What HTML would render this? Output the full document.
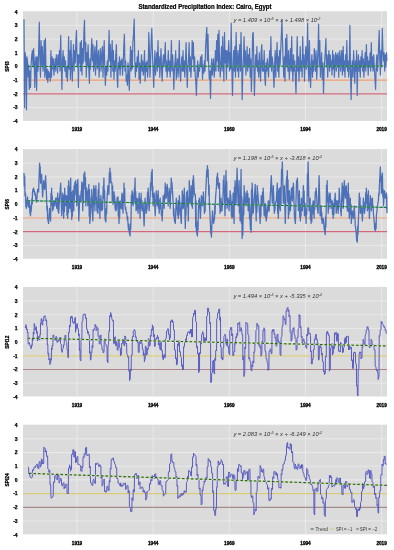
<!DOCTYPE html>
<html><head><meta charset="utf-8"><style>
html,body{margin:0;padding:0;background:#fff;width:394px;height:550px;overflow:hidden;font-family:"Liberation Sans",sans-serif}
</style></head><body>
<svg width="394" height="550" viewBox="0 0 394 550" style="display:block;filter:blur(0.45px)">
<rect x="0" y="0" width="394" height="550" fill="#ffffff"/>
<text x="205" y="8.7" font-family="Liberation Sans, sans-serif" font-weight="bold" font-size="6.6" text-anchor="middle" fill="#000" stroke="#000" stroke-width="0.22" textLength="133" lengthAdjust="spacingAndGlyphs">Standardized Precipitation Index: Cairo, Egypt</text>
<rect x="23.0" y="11.30" width="364.0" height="109.60" fill="#dbdbdb"/>
<line x1="23.0" x2="387.0" y1="107.60" y2="107.60" stroke="#ebebeb" stroke-width="0.9"/>
<line x1="23.0" x2="387.0" y1="93.90" y2="93.90" stroke="#ebebeb" stroke-width="0.9"/>
<line x1="23.0" x2="387.0" y1="80.20" y2="80.20" stroke="#ebebeb" stroke-width="0.9"/>
<line x1="23.0" x2="387.0" y1="66.50" y2="66.50" stroke="#ebebeb" stroke-width="0.9"/>
<line x1="23.0" x2="387.0" y1="52.80" y2="52.80" stroke="#ebebeb" stroke-width="0.9"/>
<line x1="23.0" x2="387.0" y1="39.10" y2="39.10" stroke="#ebebeb" stroke-width="0.9"/>
<line x1="23.0" x2="387.0" y1="25.40" y2="25.40" stroke="#ebebeb" stroke-width="0.9"/>
<line x1="77.0" x2="77.0" y1="11.30" y2="120.90" stroke="#ebebeb" stroke-width="0.9"/>
<line x1="153.2" x2="153.2" y1="11.30" y2="120.90" stroke="#ebebeb" stroke-width="0.9"/>
<line x1="229.3" x2="229.3" y1="11.30" y2="120.90" stroke="#ebebeb" stroke-width="0.9"/>
<line x1="305.5" x2="305.5" y1="11.30" y2="120.90" stroke="#ebebeb" stroke-width="0.9"/>
<line x1="381.6" x2="381.6" y1="11.30" y2="120.90" stroke="#ebebeb" stroke-width="0.9"/>
<line x1="23.0" x2="387.0" y1="80.20" y2="80.20" stroke="#f29c70" stroke-width="1.2"/>
<line x1="23.0" x2="387.0" y1="93.90" y2="93.90" stroke="#d4687a" stroke-width="1.2"/>
<polyline points="24.0,19.2 24.6,107.7 25.2,52.7 25.9,62.9 26.5,109.8 26.9,56.8 27.5,60.9 28.1,77.2 28.7,65.0 29.3,89.4 29.9,71.1 30.5,87.4 31.1,65.0 31.8,54.8 32.4,50.7 33.0,67.0 33.6,48.7 34.2,60.9 34.8,87.4 35.4,62.9 36.0,56.8 36.6,90.4 37.2,56.8 37.9,71.1 38.5,56.8 39.3,22.2 39.9,60.9 40.5,77.2 41.1,40.5 41.7,65.0 42.3,46.6 43.0,71.1 43.6,62.9 44.2,40.5 44.8,77.2 45.4,38.5 46.0,71.1 46.6,79.2 47.2,69.0 47.8,82.3 48.5,71.1 49.1,77.2 49.7,73.1 50.3,81.2 50.9,50.7 51.5,77.2 52.1,56.8 52.7,69.0 53.3,58.9 53.9,75.1 54.5,67.0 55.2,58.9 55.8,71.1 56.4,54.8 57.0,60.9 57.6,73.1 58.2,54.8 58.8,65.0 59.4,50.7 60.0,71.1 60.7,35.4 61.3,65.0 61.9,89.4 62.5,60.9 63.1,50.7 63.7,67.0 64.3,56.8 64.9,71.1 65.5,60.9 66.2,77.2 66.8,67.0 67.4,81.2 68.0,67.0 68.6,36.5 69.2,69.0 69.8,50.7 70.4,79.2 71.0,40.5 71.7,67.0 72.3,81.2 72.9,60.9 73.5,44.6 74.1,71.1 74.7,50.7 75.3,62.9 75.9,40.5 76.5,30.4 77.2,67.0 77.8,54.8 78.4,87.4 79.0,54.8 79.6,62.9 80.2,42.6 80.8,71.1 81.4,40.5 82.0,75.1 82.6,48.7 83.2,62.9 83.9,32.4 84.5,20.2 85.1,60.9 85.7,42.6 86.3,77.2 86.9,52.7 87.5,67.0 88.1,44.6 88.8,69.0 89.4,83.3 90.0,58.9 90.6,69.0 91.2,50.7 91.8,38.5 92.4,60.9 93.0,44.6 93.6,71.1 94.2,60.9 94.9,46.6 95.5,75.1 96.1,56.8 96.7,40.5 97.3,69.0 97.9,58.9 98.5,50.7 99.1,77.2 99.7,62.9 100.3,48.7 101.0,71.1 101.6,54.8 102.4,46.6 103.0,77.2 103.6,56.8 104.2,40.5 104.8,71.1 105.4,85.3 106.0,67.0 106.7,75.1 107.3,60.9 107.9,71.1 108.5,54.8 109.1,30.4 109.7,60.9 110.3,44.6 110.9,77.2 111.5,56.8 112.2,40.5 112.8,71.1 113.4,50.7 114.0,79.2 114.6,60.9 115.2,71.1 115.8,54.8 116.4,44.6 117.0,75.1 117.7,87.4 118.3,62.9 118.9,69.0 119.5,56.8 120.1,75.1 120.7,60.9 121.3,67.0 121.9,58.9 122.5,75.1 123.2,62.9 123.8,46.6 124.4,34.4 125.0,71.1 125.6,60.9 126.2,81.2 126.8,75.1 127.4,85.3 128.0,62.9 128.7,77.2 129.3,90.4 129.9,67.0 130.5,46.6 131.1,71.1 131.7,50.7 132.3,69.0 132.9,42.6 133.5,34.4 134.2,19.2 134.8,60.9 135.4,77.2 136.0,62.9 136.6,71.1 137.2,56.8 137.8,67.0 138.4,50.7 139.0,79.2 139.6,62.9 140.2,83.3 140.9,67.0 141.5,54.8 142.1,71.1 142.7,60.9 143.3,75.1 143.9,67.0 144.5,50.7 145.1,81.2 145.8,62.9 146.4,71.1 147.0,60.9 147.6,77.2 148.2,67.0 148.8,32.4 149.4,50.7 150.0,77.2 150.6,60.9 151.2,40.5 151.8,28.3 152.5,54.8 153.1,71.1 153.7,87.4 154.3,67.0 154.9,50.7 155.5,75.1 156.1,62.9 156.7,52.7 157.3,71.1 158.0,40.5 158.6,67.0 159.2,56.8 159.8,77.2 160.4,62.9 161.0,48.7 161.6,71.1 162.2,81.2 162.8,62.9 163.5,54.8 164.1,67.0 164.7,56.8 165.3,42.6 165.9,71.1 166.5,60.9 167.1,77.2 167.7,67.0 168.3,50.7 168.9,71.1 169.6,60.9 170.2,77.2 170.8,62.9 171.4,40.5 172.0,71.1 172.6,54.8 173.2,67.0 173.8,89.4 174.4,71.1 175.1,60.9 175.7,50.7 176.3,79.2 176.9,67.0 177.5,58.9 178.1,77.2 178.7,62.9 179.3,40.5 179.9,71.1 180.6,81.2 181.2,67.0 181.8,56.8 182.4,71.1 183.0,50.7 183.6,71.1 184.2,60.9 184.8,77.2 185.4,62.9 186.1,42.6 186.7,71.1 187.3,87.4 187.9,67.0 188.5,58.9 189.1,42.6 189.7,71.1 190.3,56.8 190.9,77.2 191.6,62.9 192.2,40.5 192.8,58.9 193.4,42.6 194.0,71.1 194.6,56.8 195.2,75.1 195.8,81.2 196.4,95.5 197.1,71.1 197.7,60.9 198.3,77.2 198.9,65.0 199.5,71.1 200.1,62.9 200.7,56.8 201.3,67.0 201.9,54.8 202.5,79.2 203.2,65.0 203.8,73.1 204.4,60.9 205.0,71.1 205.6,46.6 206.2,36.5 206.8,27.3 207.4,60.9 208.0,34.4 208.7,67.0 209.3,79.2 209.9,71.1 210.5,98.5 211.1,71.1 211.7,58.9 212.3,75.1 212.9,67.0 213.5,58.9 214.2,77.2 214.8,69.0 215.4,50.7 216.0,71.1 216.6,40.5 217.2,60.9 217.8,34.4 218.4,71.1 219.0,30.4 219.6,60.9 220.2,77.2 220.9,62.9 221.5,46.6 222.1,71.1 222.7,36.5 223.3,60.9 223.9,81.2 224.5,32.4 225.1,62.9 225.8,50.7 226.4,79.2 227.0,50.7 227.6,67.0 228.2,54.8 228.8,40.5 229.4,71.1 230.0,52.7 230.6,69.0 231.2,23.2 231.8,67.0 232.5,95.5 233.1,67.0 233.7,50.7 234.3,71.1 234.9,46.6 235.5,77.2 236.1,32.4 236.7,60.9 237.3,71.1 238.0,50.7 238.6,77.2 239.2,58.9 239.8,44.6 240.4,71.1 241.0,32.4 241.6,60.9 242.2,99.6 242.8,71.1 243.5,56.8 244.1,36.5 244.7,67.0 245.3,50.7 245.9,75.1 246.5,62.9 247.1,46.6 247.7,71.1 248.3,54.8 248.9,67.0 249.6,48.7 250.2,77.2 250.8,58.9 251.4,91.4 252.0,71.1 252.6,34.4 253.2,32.4 253.8,60.9 254.4,95.5 255.1,71.1 255.7,54.8 256.3,67.0 256.9,46.6 257.5,71.1 258.1,60.9 258.7,77.2 259.3,52.7 259.9,67.0 260.6,81.2 261.2,50.7 261.8,44.6 262.4,71.1 263.0,60.9 263.6,71.1 264.2,50.7 264.8,77.2 265.4,85.3 266.1,62.9 266.7,71.1 267.3,58.9 267.9,67.0 268.5,77.2 269.1,62.9 269.7,50.7 270.3,67.0 270.9,36.5 271.6,71.1 272.2,56.8 272.8,62.9 273.4,75.1 274.0,87.4 274.6,65.0 275.2,50.7 275.8,77.2 276.4,58.9 277.1,42.6 277.7,71.1 278.3,56.8 278.9,77.2 279.5,50.7 280.1,65.0 280.7,50.7 281.3,36.5 281.9,20.2 282.5,40.5 283.1,60.9 283.8,77.2 284.4,56.8 285.0,81.2 285.6,38.5 286.2,67.0 286.8,34.4 287.4,60.9 288.0,71.1 288.6,50.7 289.3,79.2 289.9,62.9 290.5,48.7 291.1,71.1 291.7,36.5 292.3,67.0 292.9,81.2 293.5,54.8 294.1,71.1 294.8,60.9 295.4,79.2 296.0,93.5 296.6,67.0 297.2,36.5 297.8,71.1 298.4,56.8 299.0,81.2 299.6,65.0 300.2,46.6 300.9,71.1 301.5,60.9 302.1,77.2 302.7,36.5 303.3,67.0 303.9,54.8 304.5,81.2 305.1,62.9 305.8,46.6 306.4,69.0 307.0,58.9 307.6,23.2 308.2,67.0 308.8,81.2 309.4,40.5 310.0,71.1 310.6,87.4 311.2,65.0 311.9,54.8 312.5,77.2 313.1,60.9 313.7,71.1 314.3,48.7 314.9,58.9 315.5,71.1 316.1,50.7 316.7,79.2 317.4,62.9 318.0,50.7 318.6,24.2 319.2,67.0 319.8,40.5 320.4,77.2 321.0,62.9 321.6,52.7 322.2,79.2 322.9,62.9 323.5,93.5 324.1,71.1 324.7,60.9 325.3,50.7 325.9,38.5 326.5,67.0 327.1,54.8 327.7,77.2 328.3,60.9 328.9,50.7 329.6,71.1 330.2,54.8 330.8,67.0 331.4,60.9 332.0,75.1 332.6,50.7 333.2,69.0 333.8,54.8 334.4,77.2 335.1,60.9 335.7,52.7 336.3,71.1 336.9,54.8 337.5,67.0 338.1,52.7 338.7,77.2 339.3,58.9 339.9,50.7 340.6,71.1 341.2,60.9 341.8,50.7 342.4,75.1 343.2,46.6 343.8,71.1 344.4,60.9 345.0,77.2 345.6,54.8 346.2,67.0 346.8,40.5 347.5,71.1 348.1,60.9 348.7,77.2 349.3,67.0 349.9,25.3 350.5,71.1 351.1,99.6 351.7,71.1 352.3,60.9 352.9,77.2 353.6,50.7 354.2,67.0 354.8,83.3 355.4,60.9 356.0,71.1 356.6,50.7 357.2,95.5 357.8,67.0 358.4,54.8 359.1,71.1 359.7,60.9 360.3,77.2 360.9,56.8 361.5,67.0 362.1,50.7 362.7,71.1 363.3,58.9 363.9,77.2 364.6,62.9 365.2,52.7 365.8,71.1 366.4,44.6 367.0,67.0 367.6,56.8 368.2,75.1 368.8,60.9 369.4,67.0 370.1,52.7 370.7,71.1 371.3,42.6 371.9,67.0 372.5,56.8 373.1,71.1 373.7,54.8 374.3,67.0 374.9,77.2 375.6,89.4 376.2,67.0 376.8,54.8 377.4,71.1 378.0,60.9 378.6,46.6 379.2,30.4 379.8,60.9 380.4,75.1 381.0,50.7 381.6,67.0 382.3,28.3 382.9,50.7 383.5,60.9 384.1,52.7 384.7,71.1 385.3,54.8 385.9,67.0 386.5,52.7 386.9,60.9" fill="none" stroke="#4d71b8" stroke-width="1.2" stroke-linejoin="round"/>
<line x1="27.6" x2="383.5" y1="66.49" y2="66.09" stroke="#6fb88a" stroke-width="1.0"/>
<line x1="27.6" x2="383.5" y1="66.49" y2="66.09" stroke="#1a7050" stroke-width="1.05" stroke-dasharray="3,1.3"/>
<text x="17.6" y="123.10" font-family="Liberation Sans, sans-serif" font-weight="bold" font-size="5" text-anchor="end" fill="#000" stroke="#000" stroke-width="0.25">-4</text>
<text x="17.6" y="109.40" font-family="Liberation Sans, sans-serif" font-weight="bold" font-size="5" text-anchor="end" fill="#000" stroke="#000" stroke-width="0.25">-3</text>
<text x="17.6" y="95.70" font-family="Liberation Sans, sans-serif" font-weight="bold" font-size="5" text-anchor="end" fill="#000" stroke="#000" stroke-width="0.25">-2</text>
<text x="17.6" y="82.00" font-family="Liberation Sans, sans-serif" font-weight="bold" font-size="5" text-anchor="end" fill="#000" stroke="#000" stroke-width="0.25">-1</text>
<text x="17.6" y="68.30" font-family="Liberation Sans, sans-serif" font-weight="bold" font-size="5" text-anchor="end" fill="#000" stroke="#000" stroke-width="0.25">0</text>
<text x="17.6" y="54.60" font-family="Liberation Sans, sans-serif" font-weight="bold" font-size="5" text-anchor="end" fill="#000" stroke="#000" stroke-width="0.25">1</text>
<text x="17.6" y="40.90" font-family="Liberation Sans, sans-serif" font-weight="bold" font-size="5" text-anchor="end" fill="#000" stroke="#000" stroke-width="0.25">2</text>
<text x="17.6" y="27.20" font-family="Liberation Sans, sans-serif" font-weight="bold" font-size="5" text-anchor="end" fill="#000" stroke="#000" stroke-width="0.25">3</text>
<text x="17.6" y="13.50" font-family="Liberation Sans, sans-serif" font-weight="bold" font-size="5" text-anchor="end" fill="#000" stroke="#000" stroke-width="0.25">4</text>
<text x="0" y="0" transform="translate(9.1,66.50) rotate(-90)" font-family="Liberation Sans, sans-serif" font-weight="bold" font-size="5.4" text-anchor="middle" fill="#000" stroke="#000" stroke-width="0.28" textLength="10.5" lengthAdjust="spacingAndGlyphs">SPI3</text>
<text x="77.0" y="131.30" font-family="Liberation Sans, sans-serif" font-weight="bold" font-size="4.7" text-anchor="middle" fill="#000" stroke="#000" stroke-width="0.3">1919</text>
<text x="153.2" y="131.30" font-family="Liberation Sans, sans-serif" font-weight="bold" font-size="4.7" text-anchor="middle" fill="#000" stroke="#000" stroke-width="0.3">1944</text>
<text x="229.3" y="131.30" font-family="Liberation Sans, sans-serif" font-weight="bold" font-size="4.7" text-anchor="middle" fill="#000" stroke="#000" stroke-width="0.3">1969</text>
<text x="305.5" y="131.30" font-family="Liberation Sans, sans-serif" font-weight="bold" font-size="4.7" text-anchor="middle" fill="#000" stroke="#000" stroke-width="0.3">1994</text>
<text x="381.6" y="131.30" font-family="Liberation Sans, sans-serif" font-weight="bold" font-size="4.7" text-anchor="middle" fill="#000" stroke="#000" stroke-width="0.3">2019</text>
<text x="233.4" y="22.20" font-family="Liberation Sans, sans-serif" font-style="italic" font-size="5.6" fill="#333" textLength="87.0" lengthAdjust="spacingAndGlyphs">y = 1.409 × 10<tspan dy="-2" font-size="3.6">-6</tspan><tspan dy="2"> × x + 1.498 × 10</tspan><tspan dy="-2" font-size="3.6">-2</tspan></text>
<rect x="23.0" y="149.10" width="364.0" height="109.60" fill="#dbdbdb"/>
<line x1="23.0" x2="387.0" y1="245.40" y2="245.40" stroke="#ebebeb" stroke-width="0.9"/>
<line x1="23.0" x2="387.0" y1="231.70" y2="231.70" stroke="#ebebeb" stroke-width="0.9"/>
<line x1="23.0" x2="387.0" y1="218.00" y2="218.00" stroke="#ebebeb" stroke-width="0.9"/>
<line x1="23.0" x2="387.0" y1="204.30" y2="204.30" stroke="#ebebeb" stroke-width="0.9"/>
<line x1="23.0" x2="387.0" y1="190.60" y2="190.60" stroke="#ebebeb" stroke-width="0.9"/>
<line x1="23.0" x2="387.0" y1="176.90" y2="176.90" stroke="#ebebeb" stroke-width="0.9"/>
<line x1="23.0" x2="387.0" y1="163.20" y2="163.20" stroke="#ebebeb" stroke-width="0.9"/>
<line x1="77.0" x2="77.0" y1="149.10" y2="258.70" stroke="#ebebeb" stroke-width="0.9"/>
<line x1="153.2" x2="153.2" y1="149.10" y2="258.70" stroke="#ebebeb" stroke-width="0.9"/>
<line x1="229.3" x2="229.3" y1="149.10" y2="258.70" stroke="#ebebeb" stroke-width="0.9"/>
<line x1="305.5" x2="305.5" y1="149.10" y2="258.70" stroke="#ebebeb" stroke-width="0.9"/>
<line x1="381.6" x2="381.6" y1="149.10" y2="258.70" stroke="#ebebeb" stroke-width="0.9"/>
<line x1="23.0" x2="387.0" y1="218.00" y2="218.00" stroke="#f29c70" stroke-width="1.2"/>
<line x1="23.0" x2="387.0" y1="231.70" y2="231.70" stroke="#d4687a" stroke-width="1.2"/>
<polyline points="24.0,173.1 24.3,186.2 24.7,176.2 25.0,195.7 25.5,193.2 25.8,206.7 26.2,199.9 26.5,208.3 27.5,197.0 27.9,204.2 28.2,200.4 28.5,207.0 28.9,203.6 29.2,205.9 29.5,202.0 29.9,213.3 30.2,205.7 30.5,215.8 30.9,209.3 31.2,211.2 31.5,205.8 31.9,198.6 32.2,204.2 32.5,193.2 32.9,189.4 33.2,191.9 33.5,188.2 34.6,192.0 34.9,195.1 35.2,193.2 35.6,195.7 35.9,199.9 36.2,196.6 36.6,202.0 37.6,189.5 38.6,192.0 39.6,163.1 39.9,173.8 40.2,166.6 40.6,183.2 40.9,176.5 41.2,182.2 41.6,174.4 42.6,197.0 43.6,180.7 44.6,189.5 45.6,175.6 46.6,198.2 46.9,210.1 47.3,205.8 47.6,218.4 48.6,223.4 49.6,208.3 50.6,220.9 51.0,193.4 51.3,205.1 51.6,188.2 52.0,205.0 52.3,195.8 52.6,210.8 53.0,203.9 53.3,208.9 53.6,200.8 54.0,203.9 54.3,202.5 54.7,205.8 55.7,198.2 56.7,208.3 57.0,197.7 57.3,204.1 57.7,193.2 58.0,211.2 58.3,197.9 58.7,213.3 59.7,195.7 60.7,183.2 61.7,215.8 62.7,193.2 63.7,218.4 64.0,195.2 64.4,211.5 64.7,188.2 65.0,202.6 65.4,195.2 65.7,205.8 66.7,195.7 67.0,215.8 67.4,203.7 67.7,218.4 68.1,185.8 68.4,212.9 68.7,180.7 69.1,196.1 69.4,187.1 69.7,208.3 70.7,178.1 71.1,211.5 71.4,192.2 71.7,219.6 72.1,195.3 72.4,216.2 72.8,190.7 73.1,204.8 73.4,195.9 73.8,210.8 74.1,186.0 74.4,202.0 74.8,183.2 75.8,180.7 76.1,195.2 76.4,184.2 76.8,205.8 77.8,179.4 78.8,220.9 79.8,195.7 80.1,199.0 80.4,197.0 80.8,200.8 81.1,191.0 81.5,192.9 81.8,181.9 82.8,210.8 83.1,183.2 83.5,202.5 83.8,175.6 84.1,173.5 84.5,174.2 84.8,171.9 85.1,189.1 85.5,177.3 85.8,205.8 86.8,188.2 87.1,200.3 87.5,194.7 87.8,205.8 88.2,190.9 88.5,200.1 88.8,184.4 89.2,216.2 89.5,189.6 89.8,223.4 90.8,210.8 91.2,197.1 91.5,206.8 91.8,189.5 92.8,220.9 93.8,185.7 94.2,204.6 94.5,188.6 94.9,210.8 95.2,196.0 95.5,201.9 95.9,185.7 96.2,203.5 96.5,197.3 96.9,209.6 97.2,211.6 97.5,211.2 97.9,213.3 98.2,189.3 98.5,199.6 98.9,183.2 99.2,208.0 99.5,200.4 99.9,218.4 100.2,199.5 100.5,210.0 100.9,195.7 101.2,204.3 101.5,202.8 101.9,210.8 102.2,202.7 102.6,209.4 102.9,198.2 103.2,186.5 103.6,189.9 103.9,178.1 104.2,198.7 104.6,190.1 104.9,215.8 105.2,220.3 105.6,216.6 105.9,222.1 106.2,208.5 106.6,213.8 106.9,200.8 107.9,185.7 108.3,191.9 108.6,189.6 108.9,194.5 109.3,172.9 109.6,182.9 109.9,168.1 110.3,178.4 110.6,172.5 110.9,181.9 111.3,182.9 111.6,182.5 111.9,183.2 112.3,202.0 112.6,185.8 113.0,204.5 113.3,197.9 113.6,201.4 114.0,192.0 114.3,202.5 114.6,195.6 115.0,207.0 115.3,210.0 115.6,208.4 116.0,210.8 116.3,201.7 116.6,209.2 117.0,198.2 118.0,197.0 118.3,216.1 118.6,202.1 119.0,223.4 119.3,207.7 119.6,218.3 120.0,200.8 120.3,206.9 120.6,202.2 121.0,208.3 122.0,193.2 122.3,209.6 122.7,197.7 123.0,213.3 123.3,194.1 123.7,202.2 124.0,183.2 124.3,201.9 124.7,188.6 125.0,205.8 125.4,209.5 125.7,207.4 126.0,210.8 126.4,213.4 126.7,212.4 127.0,215.8 127.4,220.1 127.7,216.7 128.0,223.4 128.4,229.1 128.7,224.2 129.0,230.9 130.1,235.9 130.4,223.7 130.7,229.3 131.1,215.8 131.4,195.1 131.7,204.2 132.1,190.7 132.4,200.3 132.7,192.7 133.1,205.8 133.4,199.6 133.7,202.9 134.1,198.2 134.4,188.2 134.7,191.2 135.1,178.1 135.4,203.9 135.7,191.5 136.1,210.8 137.1,198.2 137.4,209.4 137.7,205.3 138.1,213.3 138.4,199.3 138.8,208.6 139.1,193.2 140.1,218.4 140.4,198.3 140.8,208.1 141.1,193.2 141.4,208.1 141.8,200.3 142.1,210.8 142.4,205.8 142.8,209.2 143.1,203.3 144.1,225.9 145.1,198.2 145.5,207.8 145.8,202.7 146.1,213.3 147.1,208.3 147.5,192.5 147.8,203.8 148.1,188.2 149.1,210.8 150.2,195.7 150.5,183.0 150.8,190.5 151.2,180.7 151.5,172.2 151.8,179.0 152.2,169.4 152.5,196.7 152.8,186.2 153.2,205.8 153.5,196.6 153.8,199.9 154.2,193.2 155.2,215.8 156.2,190.7 157.2,205.8 157.5,194.9 157.8,198.9 158.2,190.7 158.5,208.3 158.8,199.8 159.2,213.3 160.2,198.2 160.5,208.6 160.9,204.2 161.2,210.8 161.5,215.9 161.9,212.4 162.2,220.9 163.2,195.7 163.5,202.2 163.9,200.2 164.2,208.3 164.6,193.6 164.9,198.9 165.2,183.2 165.6,194.9 165.9,186.8 166.2,198.2 167.2,184.4 168.2,205.8 168.6,192.8 168.9,200.7 169.2,188.2 169.6,201.8 169.9,198.2 170.2,208.3 170.6,190.8 170.9,193.9 171.2,178.1 171.6,184.3 171.9,182.3 172.3,188.2 173.3,205.8 173.6,215.8 173.9,208.6 174.3,218.4 174.6,221.7 174.9,219.8 175.3,223.4 176.3,198.2 176.6,208.3 176.9,200.9 177.3,210.8 177.6,215.2 177.9,211.9 178.3,218.4 178.6,200.5 178.9,215.0 179.3,195.7 180.3,210.8 181.3,223.4 181.6,202.2 182.0,209.3 182.3,190.7 182.6,203.0 183.0,195.0 183.3,208.3 184.3,188.2 185.3,228.4 185.7,213.3 186.0,214.9 186.3,198.2 186.7,192.3 187.0,194.9 187.3,190.7 187.7,207.3 188.0,198.6 188.3,220.9 188.7,197.7 189.0,201.9 189.3,180.7 190.3,203.3 190.7,190.8 191.0,198.1 191.3,185.7 191.7,205.9 192.0,189.4 192.4,208.3 192.7,179.9 193.0,197.3 193.4,175.6 194.4,193.2 194.7,194.8 195.0,194.2 195.4,195.7 195.7,226.9 196.0,200.6 196.4,230.9 197.4,235.9 197.7,222.0 198.0,229.9 198.4,210.8 198.7,200.5 199.0,207.8 199.4,198.2 200.4,218.4 201.4,195.7 202.4,205.8 202.7,196.8 203.1,199.3 203.4,192.0 203.7,205.1 204.1,201.8 204.4,213.3 204.8,203.4 205.1,211.5 205.4,198.2 206.4,178.1 206.8,169.8 207.1,176.5 207.4,165.6 207.8,174.1 208.1,169.3 208.4,180.7 208.8,195.0 209.1,185.1 209.4,203.3 210.4,223.4 210.8,233.7 211.1,227.6 211.4,237.2 212.5,210.8 213.5,223.4 214.5,218.4 214.8,204.7 215.1,213.9 215.5,198.2 216.5,185.7 216.8,177.0 217.1,180.6 217.5,173.1 217.8,184.9 218.1,178.3 218.5,188.2 218.8,184.9 219.2,186.5 219.5,183.2 219.7,207.0 219.8,194.4 220.0,213.3 220.3,204.9 220.7,211.3 221.0,198.2 221.3,204.6 221.7,202.0 222.0,210.8 222.4,202.7 222.7,204.2 223.0,195.7 223.4,180.1 223.7,192.0 224.0,175.6 225.0,215.8 226.0,170.6 226.4,200.1 226.7,181.4 227.0,208.3 228.1,198.2 228.4,204.6 228.7,202.3 229.1,210.8 229.4,200.4 229.7,204.3 230.1,190.7 230.4,197.5 230.7,195.0 231.1,203.3 231.4,216.3 231.7,208.3 232.1,218.4 232.4,201.3 232.7,211.6 233.1,193.2 233.4,216.5 233.7,205.7 234.1,223.4 234.4,187.4 234.7,204.9 235.1,180.7 236.1,203.3 237.1,168.1 238.1,205.8 238.4,192.3 238.8,194.1 239.1,180.7 239.4,213.0 239.8,195.5 240.1,220.9 241.1,169.4 241.4,223.3 241.8,196.7 242.1,238.5 242.5,223.0 242.8,235.2 243.1,218.4 243.5,199.7 243.8,214.8 244.1,185.7 244.5,196.3 244.8,191.8 245.1,200.8 245.5,205.0 245.8,201.7 246.1,205.8 246.5,193.5 246.8,202.4 247.1,190.7 247.5,201.8 247.8,193.4 248.2,210.8 249.2,198.2 249.5,218.9 249.8,206.2 250.2,223.4 250.5,229.5 250.8,225.2 251.2,232.2 251.5,189.5 251.8,215.8 252.2,183.2 253.2,213.3 254.2,200.8 255.2,184.4 256.2,220.9 256.5,195.6 256.9,212.2 257.2,185.7 258.2,198.2 259.2,208.3 260.2,223.4 260.5,206.6 260.9,216.3 261.2,195.7 261.5,203.4 261.9,197.2 262.2,205.8 262.6,192.2 262.9,200.4 263.2,188.2 264.2,215.8 264.6,207.6 264.9,209.6 265.2,203.3 265.6,217.6 265.9,207.1 266.2,220.9 267.2,213.3 267.6,205.8 267.9,211.9 268.2,200.8 268.6,207.3 268.9,205.4 269.2,210.8 269.6,200.8 269.9,204.0 270.3,195.7 271.3,175.6 272.3,203.3 272.6,190.0 272.9,200.0 273.3,185.7 274.3,213.3 274.6,205.0 274.9,210.7 275.3,203.3 275.6,201.7 275.9,202.1 276.3,200.8 277.3,183.2 277.6,213.0 278.0,190.1 278.3,218.4 279.3,188.2 279.6,208.1 280.0,192.1 280.3,210.8 280.6,187.5 281.0,204.7 281.3,183.2 281.6,169.1 282.0,178.4 282.3,161.8 283.3,203.3 283.7,187.9 284.0,196.0 284.3,185.7 285.3,223.4 286.3,183.2 286.7,176.7 287.0,181.7 287.3,170.6 287.7,201.7 288.0,180.0 288.4,218.4 288.7,204.3 289.0,214.3 289.4,190.7 289.7,201.6 290.0,196.9 290.4,210.8 291.4,188.2 292.4,200.8 292.7,186.7 293.0,198.3 293.4,183.2 294.4,215.8 295.4,223.4 296.4,185.7 296.7,180.3 297.1,182.9 297.4,178.1 298.4,210.8 299.4,190.7 299.7,217.0 300.1,203.8 300.4,220.9 300.7,205.1 301.1,216.0 301.4,198.2 301.7,205.9 302.1,200.9 302.4,210.8 303.4,185.7 303.8,202.8 304.1,190.9 304.4,215.8 304.6,205.7 304.9,210.9 305.1,203.3 305.4,215.6 305.7,210.5 306.1,223.4 306.4,209.1 306.7,214.2 307.1,200.8 307.4,174.0 307.7,195.7 308.1,161.8 309.1,210.8 309.4,201.8 309.8,207.7 310.1,198.2 310.4,219.5 310.8,206.4 311.1,223.4 311.4,216.9 311.8,221.4 312.1,210.8 312.4,204.2 312.8,209.5 313.1,200.8 313.4,214.2 313.8,203.4 314.1,218.4 314.4,201.0 314.8,209.4 315.1,195.7 315.4,191.6 315.8,192.8 316.1,188.2 317.1,205.8 318.1,213.3 319.1,175.6 320.1,215.8 321.1,205.8 321.5,219.7 321.8,212.7 322.1,223.4 322.5,219.0 322.8,221.5 323.2,218.4 324.2,228.4 325.2,234.7 325.5,217.0 325.8,227.3 326.2,210.8 326.5,185.4 326.8,197.1 327.2,180.7 327.5,202.0 327.8,192.2 328.2,213.3 328.5,203.8 328.8,209.2 329.2,198.2 329.5,193.8 329.9,196.2 330.2,193.2 330.5,202.8 330.9,199.4 331.2,208.3 331.5,202.6 331.9,206.4 332.2,200.8 332.5,214.2 332.9,203.3 333.2,218.4 333.5,210.0 333.9,214.7 334.2,205.8 334.5,198.6 334.9,200.7 335.2,193.2 335.6,206.4 335.9,200.1 336.2,213.3 337.2,200.8 338.2,213.3 338.6,200.5 338.9,201.9 339.2,188.2 340.2,205.8 341.2,215.8 342.2,183.2 342.6,201.7 342.9,186.4 343.3,208.3 344.3,180.7 345.3,198.2 345.6,187.6 345.9,195.1 346.3,185.7 347.3,210.8 347.6,193.1 347.9,199.7 348.3,183.2 348.6,211.8 348.9,194.3 349.3,218.4 349.6,202.3 350.0,214.0 350.3,198.2 350.6,214.7 351.0,204.5 351.3,223.4 352.3,210.8 352.6,215.1 353.0,213.2 353.3,218.4 354.3,205.8 355.3,225.9 356.3,233.4 356.7,240.6 357.0,237.0 357.3,242.2 357.7,225.8 358.0,234.3 358.3,223.4 359.3,193.2 359.7,205.1 360.0,197.4 360.3,213.3 360.7,209.4 361.0,212.2 361.4,205.8 362.4,220.9 363.4,198.2 363.7,207.7 364.0,201.8 364.4,213.3 365.4,205.8 365.7,192.8 366.0,199.9 366.4,188.2 366.7,203.6 367.0,195.2 367.4,210.8 368.4,190.7 368.7,209.2 369.0,203.1 369.4,218.4 370.4,195.7 370.7,205.7 371.1,198.6 371.4,210.8 371.7,203.6 372.1,204.9 372.4,198.2 372.7,206.4 373.1,205.4 373.4,213.3 374.4,223.4 374.7,229.3 375.1,226.6 375.4,230.9 375.8,223.0 376.1,228.6 376.4,215.8 377.4,205.8 378.4,200.8 378.8,193.1 379.1,195.3 379.4,185.7 380.4,166.8 380.8,181.2 381.1,179.2 381.4,193.2 381.8,175.9 382.1,188.6 382.4,173.1 382.8,196.6 383.1,189.1 383.5,205.8 384.5,190.7 385.5,198.2 385.8,194.6 386.1,196.8 386.5,193.2 386.6,209.2 386.8,196.0 387.0,213.3" fill="none" stroke="#4d71b8" stroke-width="1.3" stroke-linejoin="round"/>
<line x1="27.2" x2="387" y1="200.68" y2="207.45" stroke="#6fb88a" stroke-width="1.0"/>
<line x1="27.2" x2="387" y1="200.68" y2="207.45" stroke="#1a7050" stroke-width="1.05" stroke-dasharray="3,1.3"/>
<text x="17.6" y="260.90" font-family="Liberation Sans, sans-serif" font-weight="bold" font-size="5" text-anchor="end" fill="#000" stroke="#000" stroke-width="0.25">-4</text>
<text x="17.6" y="247.20" font-family="Liberation Sans, sans-serif" font-weight="bold" font-size="5" text-anchor="end" fill="#000" stroke="#000" stroke-width="0.25">-3</text>
<text x="17.6" y="233.50" font-family="Liberation Sans, sans-serif" font-weight="bold" font-size="5" text-anchor="end" fill="#000" stroke="#000" stroke-width="0.25">-2</text>
<text x="17.6" y="219.80" font-family="Liberation Sans, sans-serif" font-weight="bold" font-size="5" text-anchor="end" fill="#000" stroke="#000" stroke-width="0.25">-1</text>
<text x="17.6" y="206.10" font-family="Liberation Sans, sans-serif" font-weight="bold" font-size="5" text-anchor="end" fill="#000" stroke="#000" stroke-width="0.25">0</text>
<text x="17.6" y="192.40" font-family="Liberation Sans, sans-serif" font-weight="bold" font-size="5" text-anchor="end" fill="#000" stroke="#000" stroke-width="0.25">1</text>
<text x="17.6" y="178.70" font-family="Liberation Sans, sans-serif" font-weight="bold" font-size="5" text-anchor="end" fill="#000" stroke="#000" stroke-width="0.25">2</text>
<text x="17.6" y="165.00" font-family="Liberation Sans, sans-serif" font-weight="bold" font-size="5" text-anchor="end" fill="#000" stroke="#000" stroke-width="0.25">3</text>
<text x="17.6" y="151.30" font-family="Liberation Sans, sans-serif" font-weight="bold" font-size="5" text-anchor="end" fill="#000" stroke="#000" stroke-width="0.25">4</text>
<text x="0" y="0" transform="translate(9.1,204.30) rotate(-90)" font-family="Liberation Sans, sans-serif" font-weight="bold" font-size="5.4" text-anchor="middle" fill="#000" stroke="#000" stroke-width="0.28" textLength="10.5" lengthAdjust="spacingAndGlyphs">SPI6</text>
<text x="77.0" y="269.10" font-family="Liberation Sans, sans-serif" font-weight="bold" font-size="4.7" text-anchor="middle" fill="#000" stroke="#000" stroke-width="0.3">1919</text>
<text x="153.2" y="269.10" font-family="Liberation Sans, sans-serif" font-weight="bold" font-size="4.7" text-anchor="middle" fill="#000" stroke="#000" stroke-width="0.3">1944</text>
<text x="229.3" y="269.10" font-family="Liberation Sans, sans-serif" font-weight="bold" font-size="4.7" text-anchor="middle" fill="#000" stroke="#000" stroke-width="0.3">1969</text>
<text x="305.5" y="269.10" font-family="Liberation Sans, sans-serif" font-weight="bold" font-size="4.7" text-anchor="middle" fill="#000" stroke="#000" stroke-width="0.3">1994</text>
<text x="381.6" y="269.10" font-family="Liberation Sans, sans-serif" font-weight="bold" font-size="4.7" text-anchor="middle" fill="#000" stroke="#000" stroke-width="0.3">2019</text>
<text x="233.4" y="160.00" font-family="Liberation Sans, sans-serif" font-style="italic" font-size="5.6" fill="#333" textLength="88.6" lengthAdjust="spacingAndGlyphs">y = 1.198 × 10<tspan dy="-2" font-size="3.6">-5</tspan><tspan dy="2"> × x + -3.818 × 10</tspan><tspan dy="-2" font-size="3.6">-2</tspan></text>
<rect x="23.0" y="286.90" width="364.0" height="109.60" fill="#dbdbdb"/>
<line x1="23.0" x2="387.0" y1="383.20" y2="383.20" stroke="#ebebeb" stroke-width="0.9"/>
<line x1="23.0" x2="387.0" y1="369.50" y2="369.50" stroke="#ebebeb" stroke-width="0.9"/>
<line x1="23.0" x2="387.0" y1="355.80" y2="355.80" stroke="#ebebeb" stroke-width="0.9"/>
<line x1="23.0" x2="387.0" y1="342.10" y2="342.10" stroke="#ebebeb" stroke-width="0.9"/>
<line x1="23.0" x2="387.0" y1="328.40" y2="328.40" stroke="#ebebeb" stroke-width="0.9"/>
<line x1="23.0" x2="387.0" y1="314.70" y2="314.70" stroke="#ebebeb" stroke-width="0.9"/>
<line x1="23.0" x2="387.0" y1="301.00" y2="301.00" stroke="#ebebeb" stroke-width="0.9"/>
<line x1="77.0" x2="77.0" y1="286.90" y2="396.50" stroke="#ebebeb" stroke-width="0.9"/>
<line x1="153.2" x2="153.2" y1="286.90" y2="396.50" stroke="#ebebeb" stroke-width="0.9"/>
<line x1="229.3" x2="229.3" y1="286.90" y2="396.50" stroke="#ebebeb" stroke-width="0.9"/>
<line x1="305.5" x2="305.5" y1="286.90" y2="396.50" stroke="#ebebeb" stroke-width="0.9"/>
<line x1="381.6" x2="381.6" y1="286.90" y2="396.50" stroke="#ebebeb" stroke-width="0.9"/>
<line x1="23.0" x2="387.0" y1="355.80" y2="355.80" stroke="#d8cc78" stroke-width="1.2"/>
<line x1="23.0" x2="387.0" y1="369.50" y2="369.50" stroke="#b08488" stroke-width="1.2"/>
<polyline points="25.0,327.5 25.6,328.2 25.8,324.7 26.0,324.9 26.5,326.5 26.6,329.3 26.8,330.0 27.2,328.9 27.4,332.9 27.5,332.5 28.0,332.1 28.1,343.5 28.3,343.8 28.9,344.2 29.0,343.4 29.3,342.5 29.7,344.5 29.9,345.0 30.0,346.3 30.6,346.4 30.8,346.4 31.0,348.8 31.5,348.0 31.6,344.8 31.8,345.0 32.2,345.7 32.4,338.7 32.5,340.0 33.1,340.5 33.3,332.2 33.5,333.7 34.0,334.1 34.2,323.5 34.3,323.7 34.8,325.1 34.9,327.7 35.1,330.0 35.5,330.1 35.7,327.8 35.8,327.5 36.4,326.7 36.6,333.3 36.8,332.5 37.3,331.7 37.4,341.1 37.6,340.0 38.2,339.5 38.3,337.3 38.6,336.3 39.0,338.0 39.2,339.3 39.3,338.8 39.8,340.2 39.9,334.5 40.1,335.0 40.4,335.0 40.5,323.2 40.6,323.7 41.0,323.6 41.2,319.0 41.3,318.7 41.8,318.6 41.9,323.9 42.1,324.9 42.7,325.1 42.9,320.7 43.1,319.9 43.7,320.8 43.9,316.4 44.1,316.2 44.7,316.9 44.9,315.6 45.1,317.4 45.7,318.5 45.9,321.0 46.1,319.9 46.6,320.2 46.7,325.6 46.9,326.2 47.2,326.5 47.3,344.7 47.4,343.8 47.8,344.6 48.0,354.2 48.1,353.8 48.7,352.9 48.9,359.8 49.1,358.9 49.7,359.0 49.9,364.5 50.1,363.9 50.6,363.6 50.7,358.5 50.9,358.9 51.3,360.3 51.5,347.8 51.6,350.1 52.1,349.9 52.2,345.5 52.4,345.0 52.9,345.9 53.0,335.2 53.1,335.0 53.8,335.0 53.9,339.4 54.2,340.0 54.8,340.0 54.9,338.3 55.2,338.8 55.8,340.3 55.9,337.0 56.2,336.3 56.8,337.2 56.9,342.4 57.2,342.5 57.8,342.1 57.9,340.2 58.2,338.8 58.6,338.9 58.8,340.6 58.9,341.3 59.5,340.4 59.7,338.6 59.9,337.5 60.4,337.0 60.5,343.5 60.7,343.8 61.3,344.2 61.4,349.4 61.7,351.3 62.3,352.4 62.4,349.1 62.7,348.8 63.3,348.4 63.5,344.8 63.7,345.0 64.2,345.2 64.3,338.7 64.5,340.0 64.9,338.6 65.1,335.4 65.2,336.3 65.8,335.3 66.0,341.3 66.2,341.3 66.8,342.4 67.0,348.0 67.2,350.1 67.7,351.0 67.8,355.5 68.0,357.6 68.4,357.7 68.6,332.3 68.7,332.5 69.3,332.6 69.5,325.3 69.7,326.2 70.3,326.7 70.5,316.9 70.7,318.7 71.3,318.1 71.5,316.0 71.7,316.2 72.3,316.7 72.5,322.2 72.8,322.4 73.3,322.4 73.5,321.9 73.8,323.7 74.4,322.8 74.5,320.2 74.8,318.7 75.4,317.2 75.5,332.3 75.8,330.0 76.4,328.5 76.5,325.5 76.8,323.7 77.4,323.7 77.5,327.9 77.8,328.7 78.4,328.7 78.5,336.0 78.8,335.0 79.2,333.8 79.4,350.5 79.5,348.8 80.0,350.2 80.1,358.8 80.3,360.1 80.9,360.9 81.0,338.5 81.3,338.8 81.9,338.0 82.0,321.3 82.3,321.2 82.9,320.9 83.0,314.8 83.3,314.9 84.1,314.7 84.2,313.8 84.6,314.9 85.3,314.0 85.5,318.3 85.8,318.7 86.4,317.8 86.6,329.2 86.8,328.7 87.4,329.4 87.6,333.4 87.8,332.5 88.4,331.7 88.6,333.4 88.8,335.0 89.4,334.9 89.6,353.2 89.8,351.3 90.3,351.8 90.4,359.7 90.6,360.1 91.0,359.8 91.2,353.8 91.3,353.8 91.9,352.9 92.1,345.4 92.3,346.3 92.9,347.6 93.1,329.6 93.3,330.0 94.0,330.7 94.1,328.5 94.4,328.7 95.0,327.5 95.1,324.4 95.4,326.2 96.0,325.5 96.1,330.5 96.4,330.0 97.0,330.3 97.1,326.9 97.4,327.5 98.0,328.4 98.1,336.3 98.4,336.3 99.0,335.7 99.1,342.9 99.4,343.8 100.0,344.1 100.1,335.9 100.4,336.3 101.0,334.9 101.1,344.8 101.4,345.0 102.0,346.7 102.1,349.9 102.4,350.1 103.0,349.8 103.2,353.0 103.4,352.6 104.0,352.5 104.2,341.4 104.4,340.0 105.0,338.8 105.2,343.4 105.4,343.8 106.0,344.3 106.2,346.1 106.4,346.3 107.0,346.2 107.2,360.9 107.4,360.1 107.9,362.7 108.0,347.8 108.2,345.0 108.6,343.1 108.8,332.3 108.9,331.2 109.5,331.5 109.7,315.6 109.9,316.2 110.5,316.5 110.7,312.5 110.9,313.6 111.5,314.5 111.7,318.1 111.9,318.7 112.5,320.7 112.7,320.5 113.0,321.2 113.4,320.5 113.6,343.4 113.7,343.8 114.3,343.5 114.5,337.3 114.7,337.5 115.3,336.7 115.5,344.1 115.7,345.0 116.2,346.0 116.3,341.5 116.5,342.5 117.1,343.4 117.2,349.9 117.5,350.1 118.1,350.3 118.2,340.8 118.5,341.3 119.2,341.6 119.4,347.2 119.7,347.6 120.3,348.0 120.5,356.0 120.7,355.1 121.5,354.1 121.7,343.2 122.0,343.8 122.6,343.3 122.8,339.1 123.0,340.0 123.6,341.0 123.8,344.2 124.0,345.0 124.6,346.1 124.8,335.9 125.0,336.3 125.6,336.4 125.8,343.5 126.0,343.8 126.6,343.1 126.8,353.8 127.0,353.8 127.6,354.7 127.8,356.7 128.0,357.6 128.6,356.5 128.8,370.8 129.0,371.4 129.5,370.4 129.6,380.7 129.8,379.0 130.2,378.9 130.4,369.0 130.6,368.9 131.2,370.8 131.3,355.0 131.6,355.1 132.2,355.1 132.3,337.7 132.6,336.3 133.2,337.1 133.3,331.1 133.6,331.2 134.2,330.6 134.3,329.3 134.6,330.0 135.2,331.0 135.3,337.3 135.6,336.3 136.2,336.7 136.3,340.1 136.6,340.0 137.2,340.6 137.3,342.7 137.6,342.5 138.2,341.9 138.3,351.9 138.6,352.6 139.2,352.4 139.3,342.4 139.6,341.3 140.2,341.7 140.3,343.2 140.6,343.8 141.2,343.0 141.3,341.5 141.6,342.5 142.2,343.6 142.4,349.3 142.6,348.8 143.2,350.0 143.4,355.4 143.6,352.6 144.2,353.6 144.4,361.8 144.6,360.1 145.2,358.8 145.4,345.9 145.6,346.3 146.2,346.9 146.4,355.0 146.6,355.1 147.2,354.7 147.4,348.4 147.6,350.1 148.2,349.3 148.4,338.6 148.6,340.0 149.2,339.5 149.4,345.1 149.6,346.3 150.2,344.9 150.4,335.4 150.7,336.3 151.2,336.2 151.4,328.9 151.7,330.0 152.3,330.3 152.4,324.8 152.7,326.2 153.3,326.5 153.4,336.9 153.7,336.3 154.3,334.4 154.4,346.7 154.7,346.3 155.3,346.1 155.4,339.8 155.7,338.8 156.3,339.4 156.4,337.8 156.7,337.5 157.3,338.5 157.4,335.1 157.7,336.3 158.3,336.9 158.4,345.0 158.7,343.8 159.3,342.7 159.4,346.9 159.7,347.6 160.3,349.8 160.4,343.1 160.7,342.5 161.3,341.6 161.4,350.8 161.7,350.1 162.3,350.3 162.5,357.8 162.7,357.6 163.3,359.8 163.5,355.9 163.7,355.1 164.3,354.4 164.5,356.2 164.7,357.6 165.3,357.7 165.5,338.8 165.7,338.8 166.3,338.2 166.5,331.0 166.7,331.2 167.3,330.7 167.5,329.5 167.7,328.7 168.3,328.7 168.5,334.5 168.7,335.0 169.3,334.4 169.5,340.2 169.7,338.8 170.3,338.0 170.5,321.0 170.8,321.2 171.3,321.0 171.5,321.6 171.8,319.9 172.4,319.9 172.5,322.7 172.8,321.2 173.4,323.6 173.5,329.9 173.8,330.0 174.4,330.0 174.5,350.0 174.8,350.1 175.4,349.9 175.5,358.8 175.8,358.9 176.4,357.8 176.5,364.3 176.8,365.1 177.4,363.6 177.5,343.9 177.8,346.3 178.4,345.5 178.5,341.7 178.8,342.5 179.4,340.7 179.5,352.1 179.8,351.3 180.4,351.6 180.5,356.1 180.8,356.3 181.4,357.8 181.6,365.4 181.8,366.4 182.4,364.8 182.6,370.1 182.8,368.9 183.4,369.6 183.6,346.6 183.8,347.6 184.4,346.2 184.6,342.8 184.8,341.3 185.4,340.7 185.6,338.9 185.8,338.8 186.4,340.5 186.6,335.4 186.8,335.0 187.4,335.5 187.6,332.4 187.8,332.5 188.4,332.4 188.6,331.5 188.8,331.2 189.4,331.3 189.6,333.9 189.8,333.7 190.4,333.2 190.6,329.0 190.8,330.0 191.4,329.1 191.6,337.1 191.8,336.3 192.5,337.0 192.6,318.1 192.9,317.4 193.5,316.0 193.6,313.2 193.9,313.6 194.5,314.4 194.6,311.0 194.9,309.9 195.5,310.8 195.6,321.2 195.9,321.2 196.5,322.2 196.6,347.6 196.9,347.6 197.5,346.3 197.6,354.1 197.9,353.8 198.5,353.0 198.6,372.9 198.9,371.4 199.5,371.1 199.6,352.3 199.9,352.6 200.5,353.5 200.6,342.5 200.9,343.8 201.5,343.8 201.7,334.4 201.9,333.7 202.5,334.0 202.7,331.6 202.9,332.5 203.5,333.8 203.7,341.1 203.9,341.3 204.5,342.2 204.7,337.3 204.9,337.5 205.5,338.0 205.7,341.3 205.9,341.3 206.5,340.5 206.7,316.1 206.9,316.2 207.5,315.6 207.7,307.9 207.9,308.6 208.5,308.2 208.7,312.2 208.9,312.4 209.5,312.3 209.7,323.1 209.9,323.7 210.5,322.5 210.7,381.0 210.9,382.7 211.5,381.0 211.7,373.6 211.9,372.7 212.6,372.4 212.7,360.9 213.0,361.4 213.6,360.2 213.7,371.7 214.0,372.7 214.6,374.1 214.7,358.6 215.0,358.9 215.6,360.5 215.7,350.5 216.0,350.1 216.6,351.0 216.7,319.2 217.0,318.7 217.6,317.1 217.7,312.9 218.0,312.4 218.6,312.9 218.7,309.7 219.0,309.9 219.6,308.8 219.8,320.3 220.0,318.7 220.5,317.1 220.6,347.0 220.8,346.3 221.2,347.3 221.4,358.7 221.5,358.9 222.1,358.2 222.3,357.5 222.5,360.1 223.0,359.3 223.1,348.1 223.3,347.6 223.7,347.8 223.9,337.2 224.0,336.3 224.6,335.6 224.8,334.2 225.0,335.0 225.6,335.3 225.8,342.7 226.0,343.8 226.6,345.4 226.8,339.2 227.0,338.8 227.6,339.7 227.8,346.9 228.1,346.3 228.7,347.9 228.8,352.9 229.1,353.8 229.7,354.8 229.8,330.1 230.1,330.0 230.7,328.9 230.8,327.2 231.1,328.7 231.7,327.6 231.8,335.9 232.1,333.7 232.7,334.0 232.8,355.5 233.1,355.1 233.7,355.8 233.8,352.1 234.1,351.3 234.7,351.9 234.8,343.2 235.1,343.8 235.7,344.2 235.8,337.6 236.1,336.3 236.7,337.8 236.8,333.6 237.1,333.7 237.7,335.4 237.8,323.0 238.1,323.7 238.7,324.2 238.8,322.9 239.1,322.4 239.7,322.2 239.9,331.6 240.1,331.2 240.7,330.5 240.9,328.7 241.1,327.5 241.7,329.2 241.9,333.1 242.1,335.0 242.7,334.8 242.9,360.1 243.1,357.6 243.7,356.0 243.9,376.6 244.1,375.2 244.7,373.2 244.9,347.1 245.1,348.8 245.7,348.0 245.9,322.4 246.1,322.4 246.7,323.3 246.9,322.8 247.1,323.7 247.7,324.1 247.9,333.9 248.2,335.0 248.8,335.3 248.9,359.1 249.2,357.6 249.8,358.3 249.9,361.3 250.2,361.4 250.8,361.8 250.9,370.0 251.2,370.2 251.8,371.1 251.9,364.8 252.2,366.4 252.8,366.9 252.9,360.9 253.2,361.4 253.8,363.0 253.9,351.8 254.2,352.6 254.8,351.1 254.9,343.2 255.2,343.8 255.8,344.0 255.9,330.9 256.2,330.0 256.8,329.4 256.9,323.1 257.2,323.7 257.8,324.9 257.9,326.2 258.2,326.2 258.8,325.7 258.9,345.8 259.2,345.0 259.8,344.4 260.0,347.8 260.2,347.6 260.8,346.1 261.0,356.3 261.2,355.1 261.8,354.6 262.0,341.1 262.2,341.3 262.8,343.1 263.0,330.9 263.2,330.0 263.8,330.8 264.0,327.8 264.2,328.7 264.8,329.0 265.0,351.3 265.2,351.3 265.8,351.2 266.0,356.4 266.2,358.9 266.8,359.1 267.0,360.8 267.2,362.6 267.8,362.8 268.0,370.4 268.2,368.9 268.9,369.7 269.0,352.5 269.2,351.3 269.9,351.7 270.0,350.2 270.3,348.8 270.9,349.7 271.0,352.0 271.3,353.8 271.9,353.6 272.0,330.9 272.3,331.2 272.9,329.5 273.0,331.6 273.3,330.0 273.9,329.4 274.0,334.2 274.3,333.7 274.9,333.8 275.0,338.2 275.3,337.5 275.9,337.4 276.0,345.1 276.3,346.3 276.9,345.1 277.0,334.7 277.3,335.0 277.9,334.2 278.0,341.2 278.3,340.0 278.9,342.8 279.1,342.8 279.3,343.8 279.9,341.8 280.1,354.6 280.3,355.1 280.9,355.7 281.1,337.5 281.3,337.5 281.9,336.3 282.1,327.3 282.3,326.2 282.9,326.1 283.1,315.6 283.3,316.2 283.9,317.1 284.1,317.9 284.3,319.9 284.9,319.1 285.1,322.1 285.3,323.7 285.9,324.7 286.1,310.9 286.3,311.1 286.9,309.6 287.1,308.2 287.3,308.6 287.9,307.4 288.1,311.6 288.4,309.9 289.0,309.9 289.1,316.8 289.4,314.9 290.0,315.4 290.1,332.2 290.4,332.5 291.0,332.6 291.1,341.2 291.4,340.0 292.0,339.7 292.1,330.6 292.4,331.2 293.0,331.3 293.1,327.9 293.4,328.7 294.0,327.6 294.1,333.8 294.4,335.0 295.0,335.3 295.1,338.3 295.4,338.8 296.0,339.4 296.1,350.2 296.4,350.1 297.0,349.0 297.1,337.6 297.4,337.5 298.0,337.9 298.1,329.3 298.4,328.7 299.0,328.2 299.1,314.6 299.4,316.2 300.0,315.3 300.2,327.7 300.4,327.5 301.0,326.7 301.2,336.6 301.4,337.5 302.0,336.1 302.2,343.2 302.4,342.5 303.0,341.9 303.2,339.1 303.4,338.8 304.0,339.3 304.2,341.3 304.4,342.5 304.8,342.0 305.0,345.0 305.1,345.0 305.7,343.7 305.8,347.4 306.1,347.6 306.7,348.4 306.8,334.1 307.1,335.0 307.7,335.9 307.8,328.3 308.1,327.5 308.7,327.9 308.8,333.9 309.1,333.7 309.7,332.9 309.8,334.1 310.1,333.7 310.5,335.5 310.7,351.9 310.8,351.3 311.3,351.0 311.4,364.0 311.6,363.9 312.2,364.0 312.4,360.0 312.6,358.9 313.2,359.2 313.4,349.5 313.6,350.1 314.2,349.5 314.4,339.6 314.6,338.8 315.2,339.5 315.4,335.9 315.6,335.0 316.2,334.1 316.4,339.5 316.6,338.8 317.2,339.0 317.4,343.3 317.6,342.5 318.2,343.4 318.4,360.2 318.6,360.1 319.2,359.3 319.4,346.9 319.6,346.3 320.2,345.2 320.4,347.6 320.6,347.6 321.2,346.9 321.4,352.7 321.6,355.1 322.2,352.9 322.4,361.1 322.6,361.4 323.3,361.3 323.4,371.6 323.7,371.4 324.3,370.7 324.4,374.5 324.7,372.7 325.3,373.4 325.4,356.5 325.7,356.3 326.3,357.1 326.4,333.4 326.7,332.5 327.3,331.2 327.4,333.9 327.7,332.5 328.3,332.9 328.4,335.5 328.7,335.0 329.3,335.4 329.4,371.2 329.7,370.2 330.3,369.4 330.4,348.9 330.7,348.8 331.3,347.1 331.4,345.1 331.7,343.8 332.3,343.7 332.4,355.1 332.7,353.8 333.3,353.6 333.5,346.4 333.7,347.6 334.3,348.6 334.5,332.8 334.7,333.7 335.3,334.5 335.5,333.6 335.7,332.5 336.3,332.2 336.5,340.6 336.7,341.3 337.3,341.2 337.5,333.4 337.7,333.7 338.3,333.8 338.5,350.6 338.7,350.1 339.3,352.1 339.5,351.7 339.7,351.3 340.3,352.0 340.5,342.0 340.7,342.5 341.3,343.3 341.5,344.4 341.8,346.3 342.4,345.7 342.5,353.0 342.8,352.6 343.4,352.0 343.5,347.8 343.8,347.6 344.4,346.3 344.5,339.2 344.8,338.8 345.4,337.4 345.5,343.6 345.8,342.5 346.4,342.4 346.5,336.3 346.8,336.3 347.4,337.1 347.5,336.6 347.8,336.3 348.4,336.2 348.5,349.9 348.8,348.8 349.4,349.6 349.5,345.8 349.8,346.3 350.4,347.0 350.5,347.3 350.8,348.8 351.4,347.3 351.5,360.6 351.8,360.1 352.4,359.8 352.6,368.4 352.8,368.9 353.4,368.2 353.6,353.1 353.8,352.6 354.4,351.9 354.6,353.1 354.8,352.6 355.4,352.7 355.6,362.7 355.8,363.9 356.4,364.0 356.6,386.2 356.8,385.2 357.3,385.8 357.4,395.0 357.6,395.3 358.0,396.0 358.2,369.8 358.3,368.9 358.9,368.8 359.1,354.7 359.3,353.8 359.9,351.8 360.1,353.2 360.3,352.6 360.9,351.9 361.1,359.0 361.4,357.6 362.0,357.9 362.1,346.8 362.4,347.6 363.0,347.0 363.1,339.4 363.4,340.0 364.0,340.6 364.1,344.9 364.4,345.0 365.0,345.2 365.1,336.3 365.4,335.0 366.0,333.9 366.1,330.6 366.4,330.0 367.0,330.2 367.1,326.6 367.4,327.5 368.0,326.8 368.1,327.5 368.4,330.0 369.0,330.0 369.1,346.2 369.4,347.6 370.0,347.7 370.1,346.3 370.4,346.3 371.0,345.3 371.1,339.4 371.4,340.0 372.0,340.5 372.1,345.1 372.4,345.0 373.0,344.9 373.2,344.7 373.4,346.3 374.0,347.0 374.2,349.8 374.4,350.1 375.0,349.5 375.2,366.3 375.4,366.4 376.0,366.9 376.2,369.4 376.4,370.2 377.0,371.1 377.2,369.6 377.4,371.4 378.0,373.9 378.2,379.6 378.4,377.7 379.0,377.5 379.2,335.6 379.4,336.3 380.0,335.8 380.2,330.5 380.4,330.0 381.0,330.1 381.2,321.1 381.4,321.2 382.1,322.0 382.2,324.0 382.4,323.7 383.1,324.6 383.2,325.1 383.5,326.2 384.1,325.8 384.2,327.9 384.5,327.5 385.1,327.8 385.2,330.4 385.5,330.0 386.1,330.3 386.2,333.5 386.5,333.7" fill="none" stroke="#585cc0" stroke-width="1.0" stroke-linejoin="round"/>
<line x1="27.6" x2="386.8" y1="338.23" y2="345.93" stroke="#c5dc9a" stroke-width="1.2"/>
<line x1="27.6" x2="386.8" y1="338.23" y2="345.93" stroke="#2f5f32" stroke-width="1.2" stroke-dasharray="2.5,2"/>
<text x="17.6" y="398.70" font-family="Liberation Sans, sans-serif" font-weight="bold" font-size="5" text-anchor="end" fill="#000" stroke="#000" stroke-width="0.25">-4</text>
<text x="17.6" y="385.00" font-family="Liberation Sans, sans-serif" font-weight="bold" font-size="5" text-anchor="end" fill="#000" stroke="#000" stroke-width="0.25">-3</text>
<text x="17.6" y="371.30" font-family="Liberation Sans, sans-serif" font-weight="bold" font-size="5" text-anchor="end" fill="#000" stroke="#000" stroke-width="0.25">-2</text>
<text x="17.6" y="357.60" font-family="Liberation Sans, sans-serif" font-weight="bold" font-size="5" text-anchor="end" fill="#000" stroke="#000" stroke-width="0.25">-1</text>
<text x="17.6" y="343.90" font-family="Liberation Sans, sans-serif" font-weight="bold" font-size="5" text-anchor="end" fill="#000" stroke="#000" stroke-width="0.25">0</text>
<text x="17.6" y="330.20" font-family="Liberation Sans, sans-serif" font-weight="bold" font-size="5" text-anchor="end" fill="#000" stroke="#000" stroke-width="0.25">1</text>
<text x="17.6" y="316.50" font-family="Liberation Sans, sans-serif" font-weight="bold" font-size="5" text-anchor="end" fill="#000" stroke="#000" stroke-width="0.25">2</text>
<text x="17.6" y="302.80" font-family="Liberation Sans, sans-serif" font-weight="bold" font-size="5" text-anchor="end" fill="#000" stroke="#000" stroke-width="0.25">3</text>
<text x="17.6" y="289.10" font-family="Liberation Sans, sans-serif" font-weight="bold" font-size="5" text-anchor="end" fill="#000" stroke="#000" stroke-width="0.25">4</text>
<text x="0" y="0" transform="translate(9.1,342.10) rotate(-90)" font-family="Liberation Sans, sans-serif" font-weight="bold" font-size="5.4" text-anchor="middle" fill="#000" stroke="#000" stroke-width="0.28" textLength="13.2" lengthAdjust="spacingAndGlyphs">SPI12</text>
<text x="77.0" y="406.90" font-family="Liberation Sans, sans-serif" font-weight="bold" font-size="4.7" text-anchor="middle" fill="#000" stroke="#000" stroke-width="0.3">1919</text>
<text x="153.2" y="406.90" font-family="Liberation Sans, sans-serif" font-weight="bold" font-size="4.7" text-anchor="middle" fill="#000" stroke="#000" stroke-width="0.3">1944</text>
<text x="229.3" y="406.90" font-family="Liberation Sans, sans-serif" font-weight="bold" font-size="4.7" text-anchor="middle" fill="#000" stroke="#000" stroke-width="0.3">1969</text>
<text x="305.5" y="406.90" font-family="Liberation Sans, sans-serif" font-weight="bold" font-size="4.7" text-anchor="middle" fill="#000" stroke="#000" stroke-width="0.3">1994</text>
<text x="381.6" y="406.90" font-family="Liberation Sans, sans-serif" font-weight="bold" font-size="4.7" text-anchor="middle" fill="#000" stroke="#000" stroke-width="0.3">2019</text>
<text x="233.4" y="297.80" font-family="Liberation Sans, sans-serif" font-style="italic" font-size="5.6" fill="#333" textLength="88.6" lengthAdjust="spacingAndGlyphs">y = 1.494 × 10<tspan dy="-2" font-size="3.6">-5</tspan><tspan dy="2"> × x + -5.335 × 10</tspan><tspan dy="-2" font-size="3.6">-2</tspan></text>
<rect x="23.0" y="424.70" width="364.0" height="109.60" fill="#dbdbdb"/>
<line x1="23.0" x2="387.0" y1="521.00" y2="521.00" stroke="#ebebeb" stroke-width="0.9"/>
<line x1="23.0" x2="387.0" y1="507.30" y2="507.30" stroke="#ebebeb" stroke-width="0.9"/>
<line x1="23.0" x2="387.0" y1="493.60" y2="493.60" stroke="#ebebeb" stroke-width="0.9"/>
<line x1="23.0" x2="387.0" y1="479.90" y2="479.90" stroke="#ebebeb" stroke-width="0.9"/>
<line x1="23.0" x2="387.0" y1="466.20" y2="466.20" stroke="#ebebeb" stroke-width="0.9"/>
<line x1="23.0" x2="387.0" y1="452.50" y2="452.50" stroke="#ebebeb" stroke-width="0.9"/>
<line x1="23.0" x2="387.0" y1="438.80" y2="438.80" stroke="#ebebeb" stroke-width="0.9"/>
<line x1="77.0" x2="77.0" y1="424.70" y2="534.30" stroke="#ebebeb" stroke-width="0.9"/>
<line x1="153.2" x2="153.2" y1="424.70" y2="534.30" stroke="#ebebeb" stroke-width="0.9"/>
<line x1="229.3" x2="229.3" y1="424.70" y2="534.30" stroke="#ebebeb" stroke-width="0.9"/>
<line x1="305.5" x2="305.5" y1="424.70" y2="534.30" stroke="#ebebeb" stroke-width="0.9"/>
<line x1="381.6" x2="381.6" y1="424.70" y2="534.30" stroke="#ebebeb" stroke-width="0.9"/>
<line x1="23.0" x2="387.0" y1="493.60" y2="493.60" stroke="#d8cc78" stroke-width="1.2"/>
<line x1="23.0" x2="387.0" y1="507.30" y2="507.30" stroke="#a48c8a" stroke-width="1.2"/>
<polyline points="28.0,466.7 28.6,467.8 28.8,473.7 29.0,473.0 29.6,473.7 29.8,476.5 30.0,476.8 30.8,477.0 30.9,477.9 31.3,478.0 32.3,477.2 32.5,469.7 33.0,470.5 33.8,470.0 34.0,467.1 34.3,466.7 35.8,467.4 36.0,465.0 36.8,464.2 37.6,464.5 37.7,468.0 38.1,468.0 38.8,468.9 39.0,462.8 39.3,461.7 40.1,461.4 40.2,467.2 40.6,465.5 41.3,465.6 41.5,458.8 41.8,459.2 42.3,460.1 42.4,464.0 42.6,462.9 43.7,463.7 43.8,447.2 44.4,447.9 45.1,448.0 45.3,452.2 45.6,450.4 46.4,450.8 46.5,455.7 46.9,456.7 47.6,455.7 47.8,468.6 48.1,469.2 48.9,469.5 49.0,472.3 49.4,470.5 49.8,470.3 50.0,484.5 50.1,484.3 50.7,484.2 50.9,496.6 51.1,498.1 52.0,497.9 52.2,496.6 52.6,496.9 53.2,496.3 53.4,482.0 53.6,481.8 54.6,482.4 54.7,476.2 55.2,475.5 55.9,474.8 56.1,478.8 56.4,479.3 57.5,479.7 57.6,474.4 58.2,475.5 58.9,475.3 59.1,483.1 59.4,481.8 60.2,481.2 60.3,478.2 60.7,478.0 61.4,479.3 61.6,485.1 61.9,485.6 62.7,485.9 62.8,483.4 63.2,483.1 64.0,482.5 64.1,488.9 64.5,486.8 65.2,488.0 65.4,484.7 65.7,484.3 66.9,484.1 67.1,493.7 67.7,493.1 68.3,494.0 68.5,469.0 68.7,468.0 69.3,468.1 69.5,464.8 69.7,465.5 70.3,466.9 70.5,471.2 70.7,469.2 71.5,469.5 71.6,454.5 72.0,454.1 72.7,455.0 72.9,449.8 73.2,450.4 73.7,449.6 73.9,457.2 74.0,456.7 74.6,457.0 74.8,451.1 75.0,451.6 75.5,452.0 75.6,463.0 75.8,461.7 76.5,461.8 76.7,457.5 77.0,456.7 77.8,456.4 77.9,464.7 78.3,464.2 79.2,464.4 79.3,465.0 79.8,465.5 80.7,465.6 80.8,471.1 81.3,470.5 81.9,471.5 82.0,466.3 82.3,468.0 82.9,466.9 83.0,458.1 83.3,456.7 84.1,457.7 84.2,453.6 84.6,454.1 85.3,454.7 85.5,447.9 85.8,447.9 86.6,447.1 86.7,455.3 87.1,455.4 88.1,455.5 88.3,454.6 88.8,454.1 89.3,454.2 89.4,467.6 89.6,468.0 90.3,466.3 90.5,482.0 90.8,483.1 91.6,483.2 91.7,484.7 92.1,485.6 92.8,485.4 93.0,480.7 93.3,479.3 94.1,479.4 94.3,482.1 94.6,483.1 95.4,483.6 95.5,463.3 95.9,464.2 96.8,464.5 96.9,462.9 97.4,462.9 98.3,464.1 98.4,464.7 98.9,466.7 99.6,466.3 99.8,464.5 100.1,465.5 100.9,465.9 101.0,478.2 101.4,476.8 102.0,475.6 102.1,486.2 102.4,485.6 103.0,484.0 103.2,480.7 103.4,480.5 104.3,479.0 104.5,491.3 104.9,490.6 105.5,492.3 105.7,491.2 105.9,491.8 106.7,491.9 106.8,486.8 107.2,486.8 107.9,485.8 108.1,490.2 108.4,489.3 109.0,490.6 109.2,481.7 109.4,480.5 110.0,482.1 110.2,469.7 110.4,468.0 111.0,469.2 111.2,460.1 111.4,459.2 112.3,459.6 112.5,459.1 113.0,457.9 113.5,458.1 113.7,461.0 114.0,461.7 114.6,461.9 114.7,463.8 115.0,464.2 115.6,465.1 115.7,467.7 116.0,468.0 116.7,467.6 116.9,478.7 117.2,478.0 118.0,479.6 118.1,483.3 118.5,483.1 119.2,483.2 119.4,484.3 119.7,485.6 120.5,486.1 120.6,482.9 121.0,484.3 121.8,486.7 121.9,486.0 122.3,485.6 123.0,486.2 123.2,483.6 123.5,483.1 124.3,483.7 124.4,484.5 124.8,484.3 125.5,482.9 125.7,489.7 126.0,489.3 126.8,488.4 126.9,485.8 127.3,485.6 128.0,485.6 128.2,493.0 128.5,490.6 129.3,490.7 129.4,506.5 129.8,506.9 130.5,508.2 130.7,511.5 131.1,510.7 131.8,511.7 132.0,497.6 132.3,499.4 133.1,500.5 133.2,490.2 133.6,489.3 134.3,492.1 134.5,475.9 134.8,474.3 135.6,474.3 135.7,474.4 136.1,473.0 136.5,475.8 136.7,478.5 136.8,478.0 137.4,478.1 137.6,475.5 137.8,475.5 138.6,475.4 138.7,485.1 139.1,484.3 140.0,481.9 140.1,488.8 140.6,488.1 141.5,487.9 141.7,488.2 142.1,486.8 143.0,487.6 143.2,492.2 143.6,490.6 144.4,490.6 144.5,492.4 144.9,491.8 145.6,493.0 145.8,500.2 146.1,498.1 146.9,497.8 147.0,491.3 147.4,491.8 148.1,491.2 148.3,490.9 148.6,490.6 149.4,490.1 149.5,483.6 149.9,484.3 150.6,484.0 150.8,479.4 151.2,480.5 151.9,480.9 152.1,475.5 152.4,475.5 153.2,477.1 153.3,476.2 153.7,478.0 154.4,478.9 154.6,474.1 154.9,474.3 155.7,473.8 155.8,477.7 156.2,476.8 156.9,477.0 157.1,478.8 157.4,479.3 158.2,479.5 158.3,484.7 158.7,484.3 159.4,484.7 159.6,481.3 159.9,480.5 160.7,480.8 160.8,485.3 161.2,485.6 162.0,485.2 162.1,489.7 162.5,490.6 163.2,490.7 163.4,496.2 163.7,495.6 164.5,494.9 164.6,494.1 165.0,494.4 165.7,493.5 165.9,481.7 166.2,481.8 167.0,481.4 167.1,480.3 167.5,480.5 168.2,479.9 168.4,472.8 168.7,471.7 169.5,471.9 169.6,464.1 170.0,464.2 170.7,462.7 170.9,454.3 171.2,454.1 171.7,453.8 171.9,460.7 172.0,460.4 172.6,462.5 172.8,461.8 173.0,462.9 173.8,462.4 173.9,466.9 174.3,468.0 174.9,469.3 175.0,471.6 175.3,471.7 175.9,471.7 176.0,478.3 176.3,476.8 176.9,476.4 177.0,486.2 177.3,485.6 177.7,485.2 177.9,498.5 178.0,496.9 178.8,497.8 178.9,496.4 179.3,495.6 180.2,497.1 180.3,494.4 180.8,494.4 181.6,493.2 181.7,495.7 182.1,495.6 182.8,495.1 183.0,493.0 183.3,494.4 183.9,493.9 184.1,491.0 184.3,490.6 185.1,492.5 185.2,491.6 185.6,491.8 186.3,492.2 186.5,482.3 186.8,481.8 187.4,481.2 187.6,476.3 187.8,476.8 188.4,478.3 188.6,470.3 188.8,470.5 189.4,470.9 189.6,471.0 189.8,471.7 190.4,471.8 190.6,474.7 190.8,475.5 191.4,476.2 191.6,467.2 191.8,466.7 192.5,467.3 192.6,456.9 192.9,456.7 193.5,457.0 193.6,453.1 193.9,454.1 194.8,455.2 194.9,455.4 195.4,455.4 196.0,456.6 196.1,465.7 196.4,464.2 197.0,464.8 197.1,475.8 197.4,474.3 198.0,474.2 198.1,478.8 198.4,478.0 199.0,478.6 199.1,489.0 199.4,489.3 200.0,487.9 200.1,494.9 200.4,494.4 201.0,496.3 201.2,504.9 201.4,504.4 202.0,504.5 202.2,489.6 202.4,490.6 203.0,490.7 203.2,486.5 203.4,485.6 204.0,484.7 204.2,480.8 204.4,481.8 205.0,482.0 205.2,480.3 205.4,480.5 206.0,480.2 206.2,476.9 206.4,479.3 207.0,479.9 207.2,467.2 207.4,466.7 208.0,466.9 208.2,458.5 208.4,459.2 209.3,459.5 209.5,461.2 209.9,461.7 210.5,460.9 210.7,464.9 210.9,466.7 211.5,466.9 211.7,473.3 211.9,473.0 212.6,473.3 212.7,492.4 213.0,490.6 213.6,491.7 213.7,510.6 214.0,510.7 214.6,510.6 214.7,513.3 215.0,515.7 215.6,514.6 215.7,508.7 216.0,509.4 216.4,508.1 216.6,487.5 216.7,486.8 217.2,487.4 217.3,467.5 217.5,466.7 218.1,466.9 218.2,460.9 218.5,462.9 219.1,463.2 219.2,464.8 219.5,464.2 220.0,464.2 220.1,462.2 220.3,462.9 221.0,462.5 221.2,459.6 221.5,460.4 222.3,461.6 222.4,465.0 222.8,464.2 223.5,464.4 223.7,484.2 224.0,484.3 224.8,483.0 224.9,484.3 225.3,483.1 226.0,482.5 226.2,477.0 226.5,476.8 227.3,476.2 227.4,486.2 227.8,485.6 228.5,486.9 228.7,471.9 229.1,473.0 229.8,472.7 230.0,477.4 230.3,475.5 231.1,474.9 231.2,475.2 231.6,474.3 232.3,474.4 232.5,478.1 232.8,478.0 233.6,479.3 233.7,474.5 234.1,475.5 234.8,476.0 235.0,489.1 235.3,490.6 236.1,490.1 236.2,480.1 236.6,480.5 237.3,480.3 237.5,468.6 237.8,470.5 238.6,471.5 238.7,465.0 239.1,464.2 239.9,464.8 240.0,465.6 240.4,466.7 241.1,465.7 241.3,472.9 241.6,473.0 242.4,472.8 242.5,479.6 242.9,478.0 243.6,476.6 243.8,470.7 244.1,470.5 244.9,470.4 245.0,474.6 245.4,474.3 246.1,473.6 246.3,472.0 246.6,471.7 247.4,471.6 247.5,480.5 247.9,480.5 248.6,481.0 248.8,469.8 249.2,469.2 249.9,468.9 250.1,481.4 250.4,481.8 250.9,481.1 251.0,495.5 251.2,496.9 251.8,498.0 251.9,497.4 252.2,495.6 252.8,496.0 252.9,501.9 253.2,503.1 253.8,503.2 253.9,514.9 254.2,513.2 254.9,511.7 255.1,508.9 255.4,509.4 256.2,510.9 256.3,492.6 256.7,491.8 257.1,491.7 257.3,481.1 257.4,480.5 257.9,480.7 258.0,476.3 258.2,476.8 258.8,476.8 258.9,476.7 259.2,478.0 260.0,478.2 260.1,465.3 260.5,466.7 261.2,467.3 261.4,471.6 261.7,470.5 262.5,472.5 262.6,470.1 263.0,469.2 263.7,469.1 263.9,475.8 264.2,476.8 265.0,480.1 265.1,480.6 265.5,480.5 266.2,481.5 266.4,483.6 266.7,484.3 267.5,484.8 267.6,489.0 268.0,489.3 268.7,487.6 268.9,500.5 269.2,500.6 270.0,500.8 270.2,498.4 270.5,499.4 271.3,499.1 271.4,488.3 271.8,488.1 272.5,489.6 272.7,477.1 273.0,476.8 273.8,478.4 273.9,471.6 274.3,471.7 275.0,471.2 275.2,474.2 275.5,474.3 276.3,472.5 276.4,475.4 276.8,474.3 277.5,473.9 277.7,479.2 278.1,479.3 278.8,480.4 278.9,487.6 279.3,488.1 280.1,487.3 280.2,487.0 280.6,488.1 281.0,488.2 281.2,473.7 281.3,474.3 281.9,474.9 282.1,469.1 282.3,470.5 282.9,468.8 283.1,464.1 283.3,464.2 284.2,464.0 284.4,461.5 284.8,460.4 285.4,460.4 285.6,455.8 285.8,455.4 286.4,455.2 286.6,445.4 286.8,444.1 287.6,442.4 287.7,447.7 288.1,447.9 288.9,446.8 289.0,448.7 289.4,449.1 290.1,449.4 290.3,443.5 290.6,445.4 291.4,444.3 291.5,453.0 291.9,451.6 292.6,451.7 292.8,461.9 293.1,461.7 293.9,462.5 294.0,465.9 294.4,468.0 295.1,469.1 295.3,464.0 295.6,465.5 296.4,467.1 296.5,467.9 296.9,469.2 297.6,469.7 297.8,466.3 298.1,464.2 298.9,463.9 299.0,467.5 299.4,468.0 300.2,468.8 300.3,465.7 300.7,466.7 301.4,468.3 301.6,464.4 301.9,465.5 302.7,464.9 302.8,471.3 303.2,473.0 303.9,473.4 304.1,475.9 304.4,476.8 305.3,477.3 305.4,479.7 305.8,480.5 306.6,480.3 306.7,468.4 307.1,469.2 307.8,470.4 308.0,475.0 308.3,475.5 309.1,475.1 309.2,477.8 309.6,479.3 310.3,479.6 310.5,484.4 310.8,484.3 311.6,483.7 311.7,485.0 312.1,485.6 312.9,487.9 313.0,490.8 313.4,490.6 313.8,489.7 314.0,513.5 314.1,513.2 314.7,514.9 314.9,489.6 315.1,489.3 315.7,489.3 315.9,489.0 316.1,488.1 316.7,488.0 316.9,491.6 317.1,490.6 317.9,490.8 318.0,484.2 318.4,484.3 319.1,482.6 319.3,480.2 319.6,480.5 320.4,479.3 320.5,494.1 320.9,494.4 321.6,495.4 321.8,499.2 322.1,498.1 322.9,497.4 323.1,503.4 323.4,501.9 324.2,503.4 324.3,514.9 324.7,515.7 325.3,516.5 325.4,500.5 325.7,499.4 326.3,497.8 326.4,490.2 326.7,489.3 327.3,488.7 327.4,488.1 327.7,488.1 328.3,487.9 328.4,485.5 328.7,485.6 329.3,484.6 329.4,475.4 329.7,476.8 330.4,477.7 330.6,475.3 330.9,476.8 331.7,477.0 331.8,487.0 332.2,486.8 333.0,486.2 333.1,486.1 333.5,485.6 334.2,486.4 334.4,482.9 334.7,484.3 335.5,484.9 335.6,481.3 336.0,479.3 336.7,482.4 336.9,477.7 337.2,478.0 338.0,478.2 338.1,480.2 338.5,481.8 339.2,482.9 339.4,479.2 339.7,478.0 340.5,478.0 340.6,483.0 341.0,484.3 341.7,483.0 341.9,494.3 342.2,494.4 343.0,495.0 343.2,485.4 343.5,485.6 344.3,484.1 344.4,488.1 344.8,488.1 345.5,488.5 345.7,481.4 346.0,481.8 346.8,481.6 346.9,486.7 347.3,486.8 348.0,484.8 348.2,483.7 348.5,484.3 349.3,484.2 349.4,489.7 349.8,489.3 350.5,489.6 350.7,492.6 351.1,493.1 351.8,492.4 351.9,502.5 352.3,501.9 353.1,502.4 353.2,499.6 353.6,499.4 354.3,500.3 354.5,505.9 354.8,506.9 355.6,507.8 355.7,509.3 356.1,509.4 356.5,508.5 356.7,516.6 356.8,515.7 357.4,516.5 357.6,509.5 357.8,509.4 358.4,508.9 358.6,510.5 358.8,510.7 359.4,510.6 359.6,507.0 359.8,508.2 360.4,508.7 360.6,502.5 360.8,501.9 361.4,501.3 361.6,491.7 361.9,491.8 362.5,490.9 362.6,483.3 362.9,484.3 363.5,485.3 363.6,488.8 363.9,486.8 364.5,486.3 364.6,481.8 364.9,481.8 365.6,481.5 365.8,472.6 366.1,471.7 366.9,471.0 367.0,474.5 367.4,474.3 368.1,473.7 368.3,469.6 368.6,470.5 369.4,470.4 369.5,478.1 369.9,478.0 370.6,478.7 370.8,470.4 371.1,473.0 371.9,474.3 372.0,481.1 372.4,481.8 373.2,483.2 373.3,487.6 373.7,486.8 374.4,485.5 374.6,495.0 374.9,494.4 375.7,493.3 375.8,498.5 376.2,498.1 376.9,497.3 377.1,505.7 377.4,504.4 377.9,505.5 378.0,511.8 378.2,513.2 378.6,512.9 378.8,497.8 378.9,496.9 379.5,497.3 379.7,493.2 379.9,490.6 380.7,490.9 380.8,475.5 381.2,474.3 381.9,475.2 382.1,464.0 382.4,465.5 383.2,466.0 383.4,459.8 383.7,459.2 384.2,460.2 384.3,456.0 384.5,456.7 385.1,456.2 385.2,463.8 385.5,462.9 386.1,464.5 386.2,464.4 386.5,464.2" fill="none" stroke="#585cc0" stroke-width="1.0" stroke-linejoin="round"/>
<line x1="29.0" x2="386.8" y1="473.39" y2="485.37" stroke="#c5dc9a" stroke-width="1.2"/>
<line x1="29.0" x2="386.8" y1="473.39" y2="485.37" stroke="#2f5f32" stroke-width="1.2" stroke-dasharray="2.5,2"/>
<text x="17.6" y="536.50" font-family="Liberation Sans, sans-serif" font-weight="bold" font-size="5" text-anchor="end" fill="#000" stroke="#000" stroke-width="0.25">-4</text>
<text x="17.6" y="522.80" font-family="Liberation Sans, sans-serif" font-weight="bold" font-size="5" text-anchor="end" fill="#000" stroke="#000" stroke-width="0.25">-3</text>
<text x="17.6" y="509.10" font-family="Liberation Sans, sans-serif" font-weight="bold" font-size="5" text-anchor="end" fill="#000" stroke="#000" stroke-width="0.25">-2</text>
<text x="17.6" y="495.40" font-family="Liberation Sans, sans-serif" font-weight="bold" font-size="5" text-anchor="end" fill="#000" stroke="#000" stroke-width="0.25">-1</text>
<text x="17.6" y="481.70" font-family="Liberation Sans, sans-serif" font-weight="bold" font-size="5" text-anchor="end" fill="#000" stroke="#000" stroke-width="0.25">0</text>
<text x="17.6" y="468.00" font-family="Liberation Sans, sans-serif" font-weight="bold" font-size="5" text-anchor="end" fill="#000" stroke="#000" stroke-width="0.25">1</text>
<text x="17.6" y="454.30" font-family="Liberation Sans, sans-serif" font-weight="bold" font-size="5" text-anchor="end" fill="#000" stroke="#000" stroke-width="0.25">2</text>
<text x="17.6" y="440.60" font-family="Liberation Sans, sans-serif" font-weight="bold" font-size="5" text-anchor="end" fill="#000" stroke="#000" stroke-width="0.25">3</text>
<text x="17.6" y="426.90" font-family="Liberation Sans, sans-serif" font-weight="bold" font-size="5" text-anchor="end" fill="#000" stroke="#000" stroke-width="0.25">4</text>
<text x="0" y="0" transform="translate(9.1,479.90) rotate(-90)" font-family="Liberation Sans, sans-serif" font-weight="bold" font-size="5.4" text-anchor="middle" fill="#000" stroke="#000" stroke-width="0.28" textLength="13.2" lengthAdjust="spacingAndGlyphs">SPI24</text>
<text x="77.0" y="544.70" font-family="Liberation Sans, sans-serif" font-weight="bold" font-size="4.7" text-anchor="middle" fill="#000" stroke="#000" stroke-width="0.3">1919</text>
<text x="153.2" y="544.70" font-family="Liberation Sans, sans-serif" font-weight="bold" font-size="4.7" text-anchor="middle" fill="#000" stroke="#000" stroke-width="0.3">1944</text>
<text x="229.3" y="544.70" font-family="Liberation Sans, sans-serif" font-weight="bold" font-size="4.7" text-anchor="middle" fill="#000" stroke="#000" stroke-width="0.3">1969</text>
<text x="305.5" y="544.70" font-family="Liberation Sans, sans-serif" font-weight="bold" font-size="4.7" text-anchor="middle" fill="#000" stroke="#000" stroke-width="0.3">1994</text>
<text x="381.6" y="544.70" font-family="Liberation Sans, sans-serif" font-weight="bold" font-size="4.7" text-anchor="middle" fill="#000" stroke="#000" stroke-width="0.3">2019</text>
<text x="233.4" y="435.60" font-family="Liberation Sans, sans-serif" font-style="italic" font-size="5.6" fill="#333" textLength="88.6" lengthAdjust="spacingAndGlyphs">y = 2.083 × 10<tspan dy="-2" font-size="3.6">-5</tspan><tspan dy="2"> × x + -6.149 × 10</tspan><tspan dy="-2" font-size="3.6">-2</tspan></text>
<line x1="310.6" x2="313.6" y1="529.0" y2="529.0" stroke="#2f5f32" stroke-width="1"/>
<text x="315.6" y="530.6" font-family="Liberation Sans, sans-serif" font-size="4.9" fill="#333" textLength="12.2" lengthAdjust="spacingAndGlyphs">Trend</text>
<line x1="329.9" x2="334.5" y1="529.0" y2="529.0" stroke="#d8cc78" stroke-width="1"/>
<text x="336.1" y="530.6" font-family="Liberation Sans, sans-serif" font-size="4.9" fill="#333" textLength="16.2" lengthAdjust="spacingAndGlyphs">SPI = −1</text>
<line x1="356.1" x2="358.9" y1="529.0" y2="529.0" stroke="#6a6060" stroke-width="1"/>
<text x="359.8" y="530.6" font-family="Liberation Sans, sans-serif" font-size="4.9" fill="#333" textLength="17.6" lengthAdjust="spacingAndGlyphs">SPI = −2</text>
</svg>
</body></html>
